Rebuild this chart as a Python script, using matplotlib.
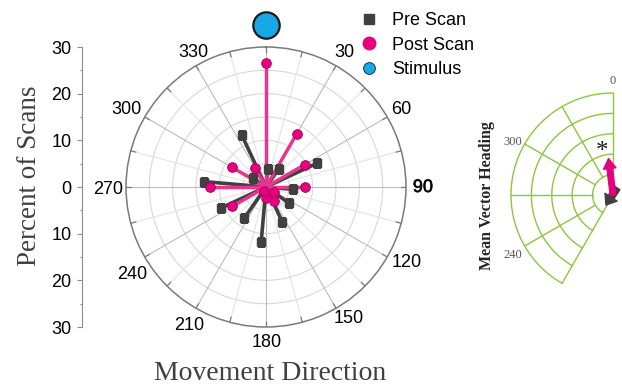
import numpy as np
import matplotlib
matplotlib.use("Agg")
import matplotlib.pyplot as plt
import matplotlib.patheffects as pe
from matplotlib.lines import Line2D

plt.rcParams["font.family"] = ["Liberation Sans", "DejaVu Sans"]

# Percent of scans per movement direction (degrees, clockwise from stimulus)
post_dir = [0, 30, 60, 90, 120, 150, 180, 210, 240, 270, 300, 330]
post_pct = [26.5, 13.2, 9.6, 8.4, 2.1, 3.4, 2.3, 1.0, 8.3, 12.0, 8.4, 4.8]
pre_dir = [5, 35, 65, 95, 125, 155, 185, 215, 245, 275, 305, 335]
pre_pct = [3.8, 4.8, 12.1, 5.9, 5.9, 8.2, 11.9, 8.1, 10.6, 13.3, 3.5, 12.2]
stim_dir = [0]
stim_pct = [34.7]

direction_ticks = [30, 60, 90, 120, 150, 180, 210, 240, 270, 300, 330]
percent_ticks = [-30, -20, -10, 0, 10, 20, 30]

# Mean vector heading (pre, post)
mean_heading = [215, 353]
mean_length = [0.12, 0.36]
inset_rings = [0.2, 0.4, 0.6, 0.8, 1.0]
inset_spokes = [210, 240, 270, 300, 330, 360]

# label offsets (pixels, right/up) from the end of each spoke on the rim
label_offset_px = {
    30: (8, 15), 60: (14.5, 10), 90: (17, 1.5), 120: (19.5, -3.5),
    150: (13, -8.5), 180: (0.5, -13.5), 210: (-7, -15.5), 240: (-12.5, -15),
    270: (-18, 0), 300: (-18, 9.5), 330: (-3, 15),
}

PRE = "#404040"
POST = "#e6007e"
POST_LINE = "#e8358f"
STIM = "#17a6e6"
GREEN = "#8dc63f"
SERIF = "Liberation Serif"

W, H = 622, 389
fig = plt.figure(figsize=(W / 100, H / 100), dpi=100)


def px_box(cx, cy, r):
    return [(cx - r) / W, (H - cy - r) / H, 2 * r / W, 2 * r / H]


# ---- main polar plot ----
ax = fig.add_axes(px_box(266, 187, 140), projection="polar")
ax.set_theta_zero_location("N")
ax.set_theta_direction(-1)
ax.set_ylim(0, 30)
ax.grid(False)
ax.set_xticks([])
ax.set_yticks([])
ax.spines["polar"].set_color("#7a7a7a")
ax.spines["polar"].set_linewidth(1.1)

full = np.linspace(0, 2 * np.pi, 361)
for r in [5, 10, 15, 20, 25]:
    ax.plot(full, np.full_like(full, r), color="#d8d8d8", lw=0.8, zorder=0)
for a in range(0, 360, 15):
    t = np.deg2rad(a)
    col = "#bcbcbc" if a % 30 == 0 else "#e4e4e4"
    ax.plot([t, t], [0, 30], color=col, lw=0.8, zorder=0)
    ax.plot([t, t], [28.9, 30], color="#7a7a7a", lw=0.9, zorder=1)

for d, p in zip(pre_dir, pre_pct):
    t = np.deg2rad(d)
    ax.plot([t, t], [0, p], color=PRE, lw=2.6, solid_capstyle="butt", zorder=2)
for d, p in zip(post_dir, post_pct):
    t = np.deg2rad(d)
    ax.plot([t, t], [0, p], color=POST_LINE, lw=2.5, solid_capstyle="butt", zorder=3)
ax.plot(np.deg2rad(pre_dir), pre_pct, "s", ls="none", ms=6, color=PRE, zorder=4)
ax.plot(np.deg2rad(post_dir), post_pct, "o", ls="none", ms=7, mfc=POST,
        mec="#a8005c", mew=0.6, zorder=5)
ax.plot(np.deg2rad(stim_dir), stim_pct, "o", ls="none", ms=19, mfc=STIM,
        mec="#1a1a1a", mew=1.6, clip_on=False, zorder=6)

for a in direction_ticks:
    ox, oy = label_offset_px[a]
    txt = ax.annotate(str(a), xy=(np.deg2rad(a), 30), xytext=(ox * 0.72, oy * 0.72),
                      textcoords="offset points", ha="center", va="center_baseline",
                      fontsize=13, annotation_clip=False)
    if a == 90:
        txt.set_path_effects([pe.withStroke(linewidth=0.6, foreground="#404040")])

# ---- percent scale on the left ----
axl = fig.add_axes([81.5 / W, (H - 327) / H, 0.001, 280 / H])
axl.patch.set_visible(False)
for side in ["right", "top", "bottom"]:
    axl.spines[side].set_visible(False)
axl.spines["left"].set_color("#8c8c8c")
axl.set_ylim(-30, 30)
axl.set_xticks([])
axl.set_yticks(percent_ticks)
axl.set_yticklabels([str(abs(v)) for v in percent_ticks])
axl.set_yticks(np.arange(-25, 30, 10), minor=True)
axl.tick_params(axis="y", which="major", length=3.3, width=0.8, color="#8c8c8c",
                labelsize=13, pad=4)
axl.tick_params(axis="y", which="minor", length=1.8, width=0.8, color="#8c8c8c")

fig.text(30 / W, 1 - 176 / H, "Percent of Scans", rotation=90, fontsize=19.5,
         family=SERIF, color="#404040", ha="center", va="center")
fig.text(270 / W, 1 - 374 / H, "Movement Direction", fontsize=20,
         family=SERIF, color="#404040", ha="center", va="center")

handles = [
    Line2D([], [], marker="s", ls="none", color=PRE, ms=7),
    Line2D([], [], marker="o", ls="none", mfc=POST, mec=POST, ms=9),
    Line2D([], [], marker="o", ls="none", mfc=STIM, mec="#1a1a1a", mew=0.6, ms=8.5),
]
fig.legend(handles, ["Pre Scan", "Post Scan", "Stimulus"], loc="upper left",
           bbox_to_anchor=(360 / W, 1 - 12 / H), frameon=False, fontsize=13,
           handlelength=1.0, handletextpad=0.8, labelspacing=0.42,
           borderpad=0, borderaxespad=0)

# ---- mean vector heading inset ----
axi = fig.add_axes(px_box(613, 195, 102), projection="polar")
axi.set_theta_zero_location("N")
axi.set_theta_direction(-1)
axi.set_ylim(0, 1)
axi.axis("off")

arc = np.deg2rad(np.linspace(210, 360, 120))
for r in inset_rings:
    axi.plot(arc, np.full_like(arc, r), color=GREEN, lw=1.0, clip_on=False)
for a in inset_spokes:
    r0 = 0 if a in (210, 360) else 0.2
    t = np.deg2rad(a)
    axi.plot([t, t], [r0, 1], color=GREEN, lw=1.0, clip_on=False)

axi.annotate("0", xy=(0, 1), xytext=(0, 4), textcoords="offset points",
             ha="center", va="bottom", fontsize=9, family=SERIF, color="#555555",
             annotation_clip=False)
axi.annotate("300", xy=(np.deg2rad(300), 1), xytext=(-1.5, 1.5),
             textcoords="offset points", ha="right", va="center", fontsize=9,
             family=SERIF, color="#555555", annotation_clip=False)
axi.annotate("240", xy=(np.deg2rad(240), 1), xytext=(-1.5, -2),
             textcoords="offset points", ha="right", va="top", fontsize=9,
             family=SERIF, color="#555555", annotation_clip=False)

# pre-scan mean vector (short, dark) then post-scan mean vector (pink)
axi.annotate("", xy=(np.deg2rad(mean_heading[0]), mean_length[0]),
             xytext=(np.deg2rad(30), 0.08),
             arrowprops=dict(arrowstyle="simple,head_length=0.42,head_width=0.65,tail_width=0.3",
                             color=PRE, shrinkA=0, shrinkB=0, mutation_scale=16),
             annotation_clip=False)
axi.annotate("", xy=(np.deg2rad(mean_heading[1]), mean_length[1]),
             xytext=(0, 0),
             arrowprops=dict(arrowstyle="simple,head_length=0.45,head_width=0.56,tail_width=0.25",
                             color=POST, shrinkA=0, shrinkB=0, mutation_scale=16),
             annotation_clip=False)
axi.text(np.deg2rad(346), 0.43, "*", fontsize=18, family=SERIF, ha="center",
         va="center", color="#1a1a1a")

fig.text(487 / W, 1 - 196 / H, "Mean Vector Heading", rotation=90, fontsize=11.5,
         weight="bold", family=SERIF, color="#262626", ha="center", va="center")

fig.savefig("out.png", dpi=100)
